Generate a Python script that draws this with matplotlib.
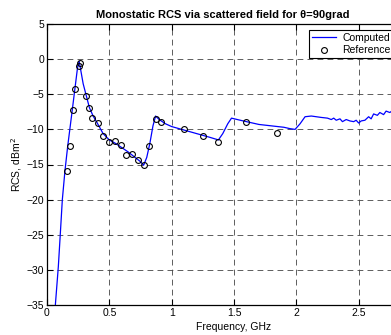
import numpy as np
import matplotlib
matplotlib.use('Agg')
import matplotlib.pyplot as plt

# computed RCS curve (GHz, dBm^2)
comp_freq = [0.067, 0.091, 0.107, 0.123, 0.144, 0.166, 0.203, 0.224, 0.245, 0.258,
             0.27, 0.29, 0.315, 0.34, 0.37, 0.40, 0.45, 0.5, 0.55, 0.6,
             0.65, 0.7, 0.75, 0.775, 0.80, 0.825, 0.85, 0.871, 0.90, 0.95,
             1.0, 1.1, 1.2, 1.3, 1.375, 1.41, 1.45, 1.48, 1.55, 1.6,
             1.7, 1.8, 1.85, 1.9, 1.95, 1.99, 2.03, 2.07, 2.12, 2.2,
             2.25, 2.28, 2.3, 2.32, 2.35, 2.37, 2.4, 2.43, 2.46, 2.48,
             2.5, 2.52, 2.55, 2.58, 2.6, 2.62, 2.65, 2.67, 2.7, 2.72,
             2.75, 2.78, 2.82, 2.86, 2.9, 2.95, 3.0]
comp_rcs = [-35, -29.5, -24.8, -20, -15.9, -12.4, -7.2, -4.2, -1.2, -0.3,
            -1.5, -3.5, -5.2, -6.9, -8.1, -9.0, -10.6, -11.5, -12.0, -12.6,
            -13.2, -13.9, -14.6, -15.1, -14.0, -12.0, -9.5, -8.1, -8.6, -9.2,
            -9.6, -10.1, -10.6, -11.1, -11.5, -10.6, -9.2, -8.4, -8.7, -8.9,
            -9.3, -9.5, -9.6, -9.7, -9.9, -10.0, -9.2, -8.2, -8.1, -8.3,
            -8.4, -8.6, -8.4, -8.7, -8.5, -8.9, -8.6, -8.8, -8.9, -8.7,
            -9.1, -8.8, -8.7, -8.2, -8.5, -7.8, -8.0, -7.6, -7.9, -7.4,
            -7.6, -7.2, -7.5, -7.1, -7.3, -7.0, -7.1]

# reference points
ref_freq = [0.163, 0.182, 0.206, 0.224, 0.256, 0.264, 0.315, 0.334, 0.360, 0.406,
            0.451, 0.499, 0.545, 0.590, 0.636, 0.684, 0.730, 0.775, 0.820, 0.871,
            0.916, 1.095, 1.250, 1.375, 1.594, 1.845]
ref_rcs = [-15.9, -12.4, -7.2, -4.2, -0.95, -0.6, -5.2, -6.9, -8.4, -9.1,
           -10.9, -11.8, -11.6, -12.2, -13.6, -13.5, -14.4, -15.0, -12.3, -8.5,
           -9.0, -10.0, -11.0, -11.85, -9.0, -10.5]

x_ticks = [0, 0.5, 1, 1.5, 2, 2.5]
x_labels = ['0', '0.5', '1', '1.5', '2', '2.5']

plt.rcParams['font.family'] = ['Liberation Sans', 'DejaVu Sans']
plt.rcParams['font.size'] = 7.5

fig = plt.figure(figsize=(3.91, 3.35), dpi=100)
# axes runs past the right edge, like the cropped original
ax = fig.add_axes([47 / 391, 30 / 335, 374 / 391, 281 / 335])

ax.plot(comp_freq, comp_rcs, color='blue', lw=0.9, label='Computed')
ax.plot(ref_freq, ref_rcs, 'o', mfc='none', mec='black', ms=4.2, mew=0.8, label='Reference')

ax.set_xlim(0, 3)
ax.set_ylim(-35, 5)
ax.set_xticks(x_ticks)
ax.set_xticklabels(x_labels)
ax.set_yticks(np.arange(-35, 6, 5))
ax.grid(True, color='#444444', linestyle=(0, (7, 5)), lw=0.6)
ax.tick_params(direction='in', top=True, right=True, length=4, width=0.8, pad=2)
for s in ax.spines.values():
    s.set_linewidth(0.9)

ax.set_title('Monostatic RCS via scattered field for θ=90grad', fontsize=8,
             fontweight='bold', pad=4, x=0.47)
ax.set_xlabel('Frequency, GHz', labelpad=3)
ax.set_ylabel('RCS, dBm$^2$', labelpad=2)

leg = ax.legend(loc='upper left', bbox_to_anchor=(309 / 391, 1 - 30 / 335),
                bbox_transform=fig.transFigure, fancybox=False, edgecolor='black',
                framealpha=1, borderpad=0.3, handlelength=2.3, handletextpad=0.6,
                labelspacing=0.2, borderaxespad=0)
leg.get_frame().set_linewidth(0.8)

fig.savefig('out.png', dpi=100)
